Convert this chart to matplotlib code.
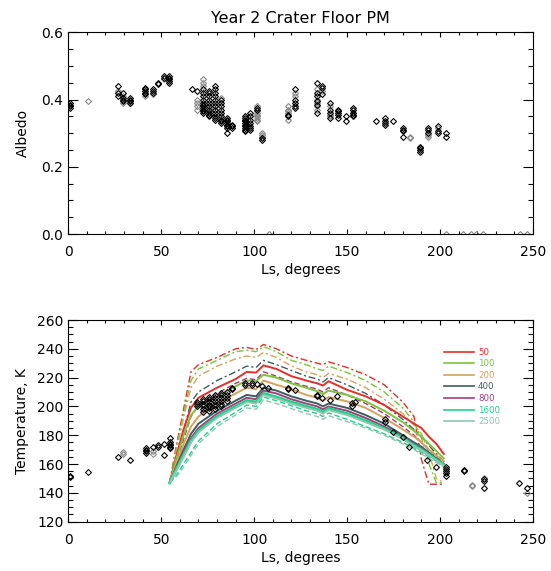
import matplotlib
matplotlib.use("Agg")
import matplotlib.pyplot as plt
from matplotlib.lines import Line2D

# ---------------- Albedo data (top panel) ----------------
alb_black_ls = [0.9]*4 + [26.6]*3 + [29.6]*4 + [33.2]*4 + [41.3]*5 + [45.4]*3 + [48.4]*2 + [51.5]*2 + [54.3]*5 \
    + [66.4, 69.4] + [72.6]*11 + [75.8]*10 + [78.9]*12 + [82.0]*9 + [85.2]*8 + [88.2]*3 \
    + [95.0]*10 + [98.0]*7 + [101.3]*2 + [104.0]*2 + [118.3]*2 + [122.0]*5 + [133.6]*6 + [136.6]*3 \
    + [140.8]*4 + [144.9]*5 + [149.4]*2 + [153.3]*5 + [165.5] + [170.4]*4 + [174.8] + [179.9]*4 \
    + [189.2]*4 + [193.7]*3 + [199.0]*3 + [203.2]*2
alb_black_val = [0.375, 0.38, 0.385, 0.39] + [0.41, 0.418, 0.44] + [0.395, 0.40, 0.405, 0.42] \
    + [0.39, 0.395, 0.40, 0.405] + [0.415, 0.42, 0.425, 0.43, 0.435] + [0.42, 0.425, 0.43] \
    + [0.445, 0.45] + [0.465, 0.47] + [0.45, 0.455, 0.46, 0.465, 0.47] + [0.43, 0.425] \
    + [0.36, 0.365, 0.37, 0.375, 0.38, 0.385, 0.39, 0.40, 0.41, 0.42, 0.43] \
    + [0.35, 0.355, 0.36, 0.37, 0.38, 0.39, 0.40, 0.41, 0.42, 0.425] \
    + [0.34, 0.345, 0.35, 0.36, 0.37, 0.38, 0.39, 0.40, 0.41, 0.42, 0.43, 0.44] \
    + [0.33, 0.335, 0.34, 0.35, 0.36, 0.37, 0.38, 0.39, 0.40] \
    + [0.30, 0.315, 0.32, 0.325, 0.33, 0.335, 0.34, 0.345] + [0.315, 0.32, 0.325] \
    + [0.305, 0.31, 0.315, 0.32, 0.325, 0.33, 0.335, 0.34, 0.345, 0.35] \
    + [0.31, 0.315, 0.32, 0.33, 0.34, 0.35, 0.36] + [0.37, 0.375] + [0.28, 0.285] + [0.35, 0.355] \
    + [0.375, 0.38, 0.39, 0.40, 0.43] + [0.36, 0.385, 0.395, 0.41, 0.42, 0.45] + [0.415, 0.435, 0.44] \
    + [0.345, 0.36, 0.37, 0.39] + [0.345, 0.355, 0.36, 0.365, 0.37] + [0.335, 0.35] \
    + [0.35, 0.355, 0.36, 0.37, 0.375] + [0.335] + [0.325, 0.33, 0.335, 0.345] + [0.335] \
    + [0.29, 0.305, 0.31, 0.315] + [0.245, 0.25, 0.255, 0.26] + [0.30, 0.31, 0.315] \
    + [0.30, 0.305, 0.32] + [0.29, 0.30]
alb_gray_ls = [10.4, 26.6, 29.6, 29.6, 33.2, 41.3, 45.4, 51.5] + [69.4]*4 + [72.6]*3 + [75.8]*2 + [78.9]*2 \
    + [82.0]*2 + [101.3]*8 + [104.0]*3 + [118.3]*5 + [122.0]*2 + [133.6]*5 + [136.6] + [140.8]*3 \
    + [153.3] + [183.8]*2 + [193.7]*2 + [199.0] \
    + [108.0, 203.0, 212.6, 216.4, 219.3, 223.0, 242.8, 246.6]
alb_gray_val = [0.395, 0.425, 0.39, 0.41, 0.39, 0.41, 0.415, 0.46] + [0.37, 0.38, 0.39, 0.40] \
    + [0.44, 0.45, 0.46] + [0.365, 0.375] + [0.37, 0.38] + [0.345, 0.405] \
    + [0.335, 0.34, 0.345, 0.35, 0.355, 0.36, 0.365, 0.38] + [0.29, 0.295, 0.30] \
    + [0.34, 0.36, 0.365, 0.37, 0.38] + [0.41, 0.42] + [0.37, 0.38, 0.39, 0.40, 0.43] + [0.425] \
    + [0.35, 0.355, 0.38] + [0.36] + [0.285, 0.29] + [0.29, 0.295] + [0.315] \
    + [0.0, 0.0, 0.0, 0.0, 0.0, 0.0, 0.0, 0.0]

# ---------------- Temperature data (bottom panel) ----------------
tmp_black_ls = [0.9]*2 + [10.4, 26.6, 33.2] + [41.6]*4 + [45.4] + [48.4]*2 + [51.5]*2 + [54.7]*6 \
    + [69.4]*3 + [72.6]*6 + [75.7]*7 + [78.9]*6 + [82.0]*6 + [85.2]*4 + [88.2]*2 + [95.0]*2 \
    + [98.6]*2 + [101.3, 104.4, 107.6] + [118.3]*2 + [121.9] + [133.6]*2 + [136.6, 140.7, 144.7] \
    + [152.4]*2 + [154.2] + [170.3]*2 + [174.8, 180.1, 183.4, 193.0, 198.0] + [203.4]*5 \
    + [213.1]*2 + [223.5]*3 + [242.4] + [246.6]
tmp_black_val = [151, 152] + [154.5, 165, 162.5] + [168, 169, 170, 171] + [172] + [172, 173] \
    + [166.5, 174] + [171, 172, 173, 174, 175, 178] + [200.5, 202, 203] \
    + [196, 198, 200, 202, 204, 205] + [197, 199, 200, 201, 203, 205, 206.5] \
    + [198, 200, 202, 204, 206, 208] + [200, 202, 204, 206, 208, 209.5] + [204, 206, 208, 210] \
    + [212, 213] + [215, 216] + [215, 216] + [215.5, 214, 213] + [212, 213] + [211.5] + [207, 208] \
    + [206, 204.5, 207.5] + [200, 202.5] + [203] + [189.5, 191] + [182.5, 179, 172, 162.5, 158] \
    + [152, 153.5, 155, 156.5, 158] + [155, 156] + [143.5, 148, 149.5] + [147] + [143.5]
tmp_gray_ls = [29.6, 29.6, 45.4, 45.4, 217.3, 217.3, 223.5, 246.6]
tmp_gray_val = [167, 168.5, 167, 169, 145, 145.5, 150.5, 140]

# ---------------- Model curves ----------------
model_ls = [54.5, 58, 62, 66, 70, 80, 90, 96, 101, 105, 112, 120, 128, 134, 137, 140,
            150, 160, 170, 180, 186, 190, 194, 198, 202]
ti_labels = ['50', '100', '200', '400', '800', '1600', '2500']
ti_colors = ['#e4302a', '#7cc43c', '#d6a25e', '#3e5e5e', '#a0407c', '#22d08c', '#8cc8b2']
solid_T = [
    [147, 165, 184, 199, 206, 213, 219, 224, 223.5, 228.5, 226, 221, 218, 216, 214.5, 217.5, 211.5, 207, 201, 193, 188, 185, 179, 174, 167],
    [147, 163, 180, 194, 200, 207, 214, 218, 217.5, 222, 220, 216, 213, 210.5, 208.5, 211, 208, 203.5, 197, 189, 183, 179, 174, 169, 164],
    [147, 160, 174, 186, 193, 202, 209, 213, 212, 218, 215, 212, 208, 206, 204, 206.5, 203.5, 199, 192, 184, 179, 175, 170, 166, 162],
    [147, 158, 170, 181, 188, 197, 204, 208, 207, 213, 211, 207, 204, 202, 200, 202, 199, 194, 188, 180, 175, 172, 168, 164, 160],
    [147, 157, 168, 178, 185, 195, 202, 206, 205, 211, 209, 205, 202, 200, 198, 200, 197, 192, 186, 179, 174, 171, 167, 163, 160],
    [147, 156, 166, 176, 183, 193, 200, 204, 203, 209, 206.5, 203, 200, 198, 196, 198.5, 195, 190, 184.5, 178, 173, 170, 166.5, 163, 159.5],
    [147, 155, 165, 175, 182, 192, 199, 203, 202, 208, 205.5, 202, 199, 197, 195, 197.5, 194, 189, 184, 177.5, 172.5, 169.5, 166, 162.5, 159],
]
alt_T = [
    [147, 172, 198, 224, 229, 234, 240, 241, 239.5, 243, 240, 235, 232, 230, 229, 231, 227, 222, 215, 203, 193, 163, 146, 146, 146],
    [147, 170, 195, 218, 226, 232, 238, 239, 238, 241.5, 238, 232, 229, 226, 225, 228, 223.5, 218, 210, 199, 189, 178, 160, 147, 147],
    [147, 168, 192, 213, 221, 228, 233, 235, 234, 237.5, 234, 228, 224, 222, 220, 223, 219, 213, 205, 195, 187, 181, 168, 150, 147],
    [147, 163, 183, 203, 210, 218, 224, 228, 227, 232, 229, 225, 221, 219, 217, 220, 215, 209, 201, 191, 184, 179, 173, 167, 162],
    [147, 160, 177, 193, 201, 209, 216, 219.5, 218.5, 224, 221, 217, 214, 212, 210, 213, 208, 202, 195, 186, 180, 175, 170, 165, 160],
    [147, 152, 160, 168, 176, 188, 196, 201, 200, 206.5, 204, 200.5, 197, 195, 193, 195.5, 191, 186, 181, 175, 171, 168, 165, 162, 159],
    [147, 151, 158, 166, 174, 186, 194, 199, 198, 204.5, 202, 198.5, 195, 193, 191, 193.5, 189.5, 185, 180, 174, 170, 167, 164, 161, 158],
]
alt_styles = ['dashdot']*4 + ['dashed']*3

W, H = 551, 571
fig = plt.figure(figsize=(W/100, H/100), dpi=100)
plt.rcParams['font.family'] = 'DejaVu Sans'

L = 68.3 / W
AW = 464.7 / W
AH = 201.7 / H
ax1 = fig.add_axes([L, 1 - 234 / H, AW, AH])
ax2 = fig.add_axes([L, 1 - 521.7 / H, AW, AH])

mk = dict(marker='D', markersize=3.0, markerfacecolor='none', markeredgewidth=0.8, linestyle='none')

ax1.plot(alb_gray_ls, alb_gray_val, markeredgecolor='#8a8a8a', **mk)
ax1.plot(alb_black_ls, alb_black_val, markeredgecolor='black', **mk)

for i in range(len(ti_labels)):
    ax2.plot(model_ls, alt_T[i], color=ti_colors[i], lw=1.0,
             linestyle=(0, (5, 2, 1.5, 2)) if alt_styles[i] == 'dashdot' else (0, (4, 2)))
for i in range(len(ti_labels)):
    ax2.plot(model_ls, solid_T[i], color=ti_colors[i], lw=2.2 if ti_labels[i] == '1600' else 1.4)

ax2.plot(tmp_gray_ls, tmp_gray_val, markeredgecolor='#8a8a8a', **mk)
ax2.plot(tmp_black_ls, tmp_black_val, markeredgecolor='black', **mk)

handles = [Line2D([], [], color=c, lw=1.2) for c in ti_colors]
leg = ax2.legend(handles, ti_labels, loc='upper left', bbox_to_anchor=(0.80, 0.88),
                 frameon=False, fontsize=6.2, handlelength=3.5, handletextpad=0.5,
                 labelspacing=0.3, borderaxespad=0.0, labelcolor=ti_colors)

for ax in (ax1, ax2):
    ax.set_xlim(0, 250)
    ax.set_xticks([0, 50, 100, 150, 200, 250])
    ax.set_xticks(range(0, 251, 10), minor=True)
    ax.tick_params(axis='both', which='both', direction='in', top=True, right=True,
                   labelsize=10, width=0.8, color='black')
    ax.tick_params(axis='x', which='major', length=3.5, pad=8)
    ax.tick_params(axis='x', which='minor', length=2.5)
    ax.tick_params(axis='y', which='major', length=7, pad=3.5)
    ax.tick_params(axis='y', which='minor', length=3.5)
    for s in ax.spines.values():
        s.set_linewidth(0.8)
    ax.set_xlabel('Ls, degrees', fontsize=10, labelpad=3)

ax1.set_ylim(0, 0.6)
ax1.set_yticks([0.0, 0.2, 0.4, 0.6])
ax1.set_yticklabels(['0.0', '0.2', '0.4', '0.6'])
ax1.set_yticks([0.05 * k for k in range(13)], minor=True)
ax1.set_ylabel('Albedo', fontsize=10, labelpad=8)
ax1.set_title('Year 2 Crater Floor PM', fontsize=11.5, pad=7)

ax2.set_ylim(120, 260)
ax2.set_yticks(range(120, 261, 20))
ax2.set_yticks(range(120, 261, 5), minor=True)
ax2.set_ylabel('Temperature, K', fontsize=10, labelpad=6)

fig.savefig('out.png', dpi=100)
